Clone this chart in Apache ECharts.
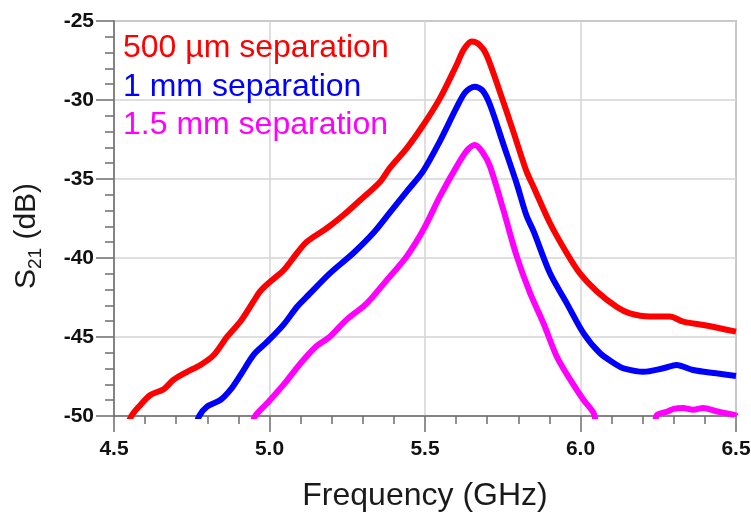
<!DOCTYPE html>
<html>
<head>
<meta charset="utf-8">
<script src="https://cdn.jsdelivr.net/npm/echarts@6/dist/echarts.min.js"></script>
<style>
  html, body { margin: 0; padding: 0; background: #fff; }
  #chart { width: 751px; height: 515px; }
</style>
</head>
<body>
<div id="chart"></div>
<script>
// frequency (GHz) / S21 (dB)
const freq500 = [4.54, 4.556, 4.585, 4.617, 4.66, 4.692, 4.735, 4.778, 4.821, 4.864, 4.907, 4.95, 4.97, 5.002, 5.046, 5.088, 5.12, 5.184, 5.238, 5.292, 5.356, 5.387, 5.441, 5.494, 5.548, 5.601, 5.625, 5.65, 5.675, 5.698, 5.741, 5.784, 5.826, 5.849, 5.902, 5.956, 5.998, 6.052, 6.117, 6.159, 6.223, 6.287, 6.33, 6.395, 6.5]
const s500 = [-50.8, -50, -49.3, -48.67, -48.3, -47.7, -47.2, -46.77, -46.14, -44.98, -44.0, -42.7, -42.1, -41.5, -40.76, -39.7, -38.97, -38.12, -37.28, -36.33, -35.17, -34.3, -33.06, -31.6, -29.9, -27.8, -26.8, -26.3, -26.5, -27.15, -29.5, -32.0, -34.5, -35.5, -37.8, -39.7, -40.97, -42.1, -43.1, -43.5, -43.7, -43.7, -44.03, -44.24, -44.66]

const freq1mm = [4.76, 4.774, 4.799, 4.842, 4.874, 4.907, 4.95, 4.993, 5.046, 5.088, 5.12, 5.194, 5.269, 5.333, 5.388, 5.441, 5.494, 5.548, 5.601, 5.63, 5.66, 5.685, 5.709, 5.752, 5.795, 5.826, 5.849, 5.902, 5.956, 6.01, 6.063, 6.117, 6.138, 6.202, 6.266, 6.309, 6.362, 6.437, 6.5]
const s1mm = [-50.8, -50, -49.4, -48.99, -48.35, -47.4, -46.1, -45.3, -44.2, -43.1, -42.45, -40.97, -39.7, -38.44, -37.1, -35.8, -34.5, -32.6, -30.5, -29.5, -29.16, -29.4, -30.3, -32.8, -35.3, -37.3, -38.3, -40.97, -42.87, -44.77, -46.03, -46.77, -46.98, -47.2, -46.98, -46.77, -47.09, -47.3, -47.47]

const freq15mm = [4.94, 4.954, 4.992, 5.046, 5.1, 5.15, 5.194, 5.248, 5.313, 5.377, 5.441, 5.495, 5.548, 5.602, 5.635, 5.66, 5.685, 5.709, 5.752, 5.795, 5.838, 5.881, 5.924, 5.967, 6.01, 6.042, 6.06, 6.23, 6.246, 6.278, 6.3, 6.33, 6.362, 6.395, 6.437, 6.497, 6.5]
const s15mm = [-50.8, -50, -49.2, -48.0, -46.66, -45.6, -44.98, -43.9, -42.87, -41.4, -39.9, -38.2, -36.1, -34.2, -33.2, -32.85, -33.3, -34.2, -36.96, -39.9, -42.23, -44.13, -46.25, -47.7, -48.99, -49.8, -50.8, -50.8, -49.94, -49.73, -49.55, -49.5, -49.6, -49.5, -49.7, -49.94, -50]

const seriesNames = ['500 µm separation', '1 mm separation', '1.5 mm separation']
const seriesColors = ['#ff0000', '#0000ff', '#ff00ff']
const xTicks = [4.5, 5.0, 5.5, 6.0, 6.5]
const yTicks = [-50, -45, -40, -35, -30, -25]

const zip = (xs, ys) => xs.map((x, i) => [x, ys[i]])
const curves = [zip(freq500, s500), zip(freq1mm, s1mm), zip(freq15mm, s15mm)]

const chart = echarts.init(document.getElementById('chart'))
const font = 'Liberation Sans, Arial, sans-serif'

const option = {
  animation: false,
  textStyle: { fontFamily: font },
  grid: {
    left: 114,
    right: 15,
    top: 21,
    bottom: 99,
    outerBoundsMode: 'none',
    show: true,
    borderColor: '#8c8c8c',
    borderWidth: 1.5,
  },
  legend: {
    orient: 'vertical',
    left: 116,
    top: 29,
    padding: 0,
    icon: 'none',
    itemWidth: 2,
    itemHeight: 2,
    itemGap: 0,
    selectedMode: false,
    textStyle: { fontSize: 32, lineHeight: 38.5, fontFamily: font },
    data: seriesNames.map((name, i) => ({ name, textStyle: { color: seriesColors[i] } })),
  },
  xAxis: {
    type: 'value',
    min: xTicks[0],
    max: xTicks[xTicks.length - 1],
    interval: 0.5,
    name: 'Frequency (GHz)',
    nameLocation: 'middle',
    nameGap: 64,
    nameTextStyle: { fontSize: 32, color: '#1a1a1a', fontFamily: font },
    axisLine: { lineStyle: { color: '#6e6e6e', width: 1.5 } },
    axisTick: { length: 16, lineStyle: { color: '#6e6e6e', width: 1.5 } },
    minorTick: { show: true, splitNumber: 5, length: 8, lineStyle: { color: '#6e6e6e', width: 1.5 } },
    splitLine: { show: true, lineStyle: { color: '#d4d4d4', width: 1.5 } },
    axisLabel: {
      margin: 23,
      fontSize: 21,
      fontWeight: 'bold',
      color: '#111',
      formatter: (v) => v.toFixed(1),
    },
  },
  yAxis: {
    type: 'value',
    min: yTicks[0],
    max: yTicks[yTicks.length - 1],
    interval: 5,
    axisLine: { show: true, lineStyle: { color: '#6e6e6e', width: 1.5 } },
    axisTick: { show: true, length: 18, lineStyle: { color: '#6e6e6e', width: 1.5 } },
    minorTick: { show: true, splitNumber: 5, length: 9, lineStyle: { color: '#6e6e6e', width: 1.5 } },
    splitLine: { show: true, lineStyle: { color: '#d4d4d4', width: 1.5 } },
    axisLabel: {
      margin: 20,
      fontSize: 21,
      fontWeight: 'bold',
      color: '#111',
    },
  },
  graphic: [
    {
      // y axis title with subscript
      type: 'text',
      rotation: Math.PI / 2,
      x: 27,
      y: 236,
      style: {
        text: '{a|S}{b|21}{a| (dB)}',
        align: 'center',
        verticalAlign: 'middle',
        rich: {
          a: { fontSize: 30, fontFamily: font, fill: '#1a1a1a', lineHeight: 36, verticalAlign: 'middle' },
          b: { fontSize: 19, fontFamily: font, fill: '#1a1a1a', lineHeight: 36, verticalAlign: 'bottom', padding: [10, 0, 0, 0] },
        },
      },
    },
  ],
  series: curves.map((data, i) => ({
    name: seriesNames[i],
    type: 'line',
    data: data,
    showSymbol: false,
    symbol: 'none',
    clip: true,
    smooth: 0.3,
    lineStyle: { color: seriesColors[i], width: 6 },
    itemStyle: { color: seriesColors[i] },
  })),
}

chart.setOption(option)
</script>
</body>
</html>
